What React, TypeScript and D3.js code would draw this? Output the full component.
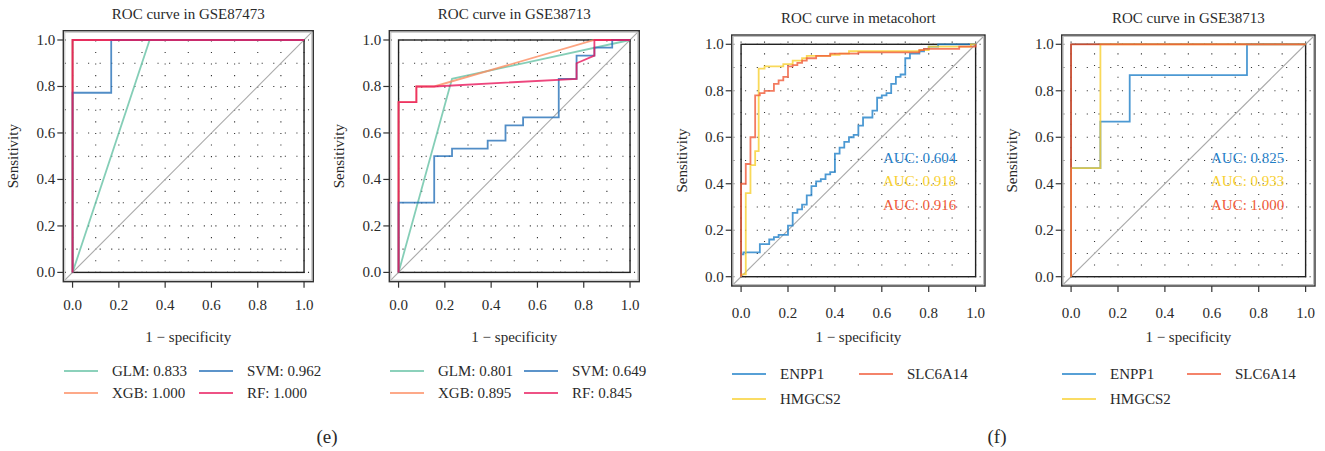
import React from 'react';
import * as d3 from 'd3';

// ---------- data ----------
const TICKS = [0, 0.2, 0.4, 0.6, 0.8, 1.0];
const GRID = [0, 0.1, 0.2, 0.3, 0.4, 0.5, 0.6, 0.7, 0.8, 0.9, 1.0];

const MODEL_NAMES = ['GLM', 'XGB', 'SVM', 'RF'];
const MODEL_COLORS = ['#66C2A5', '#FC8D62', '#2670B8', '#E8185C'];
const GENE_NAMES = ['ENPP1', 'HMGCS2', 'SLC6A14'];
const GENE_COLORS = ['#1F80C8', '#F8D030', '#F05A38'];

const AUC_E1 = ['0.833', '1.000', '0.962', '1.000'];
const AUC_E2 = ['0.801', '0.895', '0.649', '0.845'];
const AUC_F1 = ['0.604', '0.918', '0.916'];
const AUC_F2 = ['0.825', '0.933', '1.000'];

// GSE87473 (models)
const E1_GLM = [[0, 0], [0.333, 1], [1, 1]];
const E1_XGB = [[0, 0], [0, 1], [1, 1]];
const E1_SVM = [[0, 0], [0, 0.773], [0.167, 0.773], [0.167, 1], [1, 1]];
const E1_RF = [[0, 0], [0, 1], [1, 1]];

// GSE38713 (models)
const E2_GLM = [[0, 0], [0.231, 0.833], [1, 1]];
const E2_XGB = [[0, 0], [0, 0.733], [0.077, 0.733], [0.077, 0.8], [0.154, 0.8], [0.846, 1], [1, 1]];
const E2_SVM = [[0, 0], [0, 0.3], [0.154, 0.3], [0.154, 0.5], [0.231, 0.5], [0.231, 0.533], [0.385, 0.533],
  [0.385, 0.567], [0.462, 0.567], [0.462, 0.633], [0.538, 0.633], [0.538, 0.667], [0.692, 0.667],
  [0.692, 0.833], [0.769, 0.833], [0.769, 0.933], [0.846, 0.933], [0.846, 0.967], [0.923, 0.967],
  [0.923, 1], [1, 1]];
const E2_RF = [[0, 0], [0, 0.733], [0.077, 0.733], [0.077, 0.8], [0.154, 0.8], [0.769, 0.833],
  [0.769, 0.9], [0.846, 0.933], [0.846, 1], [1, 1]];

// metacohort (genes)
const F1_ENPP1 = [[0, 0], [0, 0.096], [0.01, 0.096], [0.01, 0.105], [0.08, 0.105], [0.08, 0.14], [0.12, 0.14],
  [0.12, 0.16], [0.14, 0.16], [0.14, 0.17], [0.16, 0.17], [0.16, 0.18], [0.2, 0.18], [0.2, 0.22], [0.22, 0.22],
  [0.22, 0.275], [0.24, 0.275], [0.24, 0.29], [0.26, 0.29], [0.26, 0.31], [0.28, 0.31], [0.28, 0.35], [0.3, 0.35],
  [0.3, 0.39], [0.32, 0.39], [0.32, 0.41], [0.34, 0.41], [0.34, 0.42], [0.36, 0.42], [0.36, 0.44], [0.38, 0.44],
  [0.38, 0.45], [0.4, 0.45], [0.4, 0.53], [0.42, 0.53], [0.42, 0.555], [0.44, 0.555], [0.44, 0.58], [0.46, 0.58],
  [0.46, 0.6], [0.48, 0.6], [0.48, 0.61], [0.5, 0.61], [0.5, 0.65], [0.52, 0.65], [0.52, 0.685], [0.56, 0.685],
  [0.56, 0.715], [0.58, 0.715], [0.58, 0.77], [0.6, 0.77], [0.6, 0.78], [0.62, 0.78], [0.62, 0.79], [0.64, 0.79],
  [0.64, 0.83], [0.66, 0.83], [0.66, 0.86], [0.68, 0.86], [0.68, 0.87], [0.7, 0.87], [0.7, 0.94], [0.72, 0.94],
  [0.72, 0.96], [0.76, 0.96], [0.76, 0.97], [0.78, 0.97], [0.78, 0.98], [0.8, 0.98], [0.8, 0.99], [0.84, 0.99],
  [0.84, 1], [1, 1]];
const F1_HMGCS2 = [[0, 0], [0, 0.01], [0.02, 0.01], [0.02, 0.36], [0.04, 0.36], [0.04, 0.48], [0.06, 0.48],
  [0.06, 0.54], [0.075, 0.54], [0.075, 0.895], [0.1, 0.895], [0.1, 0.905], [0.18, 0.905], [0.18, 0.915],
  [0.22, 0.915], [0.22, 0.93], [0.26, 0.93], [0.26, 0.94], [0.28, 0.94], [0.28, 0.95], [0.38, 0.95],
  [0.38, 0.955], [0.42, 0.955], [0.42, 0.96], [0.46, 0.96], [0.46, 0.97], [0.76, 0.97], [0.76, 0.975],
  [0.8, 0.975], [0.8, 0.99], [0.98, 0.99], [0.98, 1], [1, 1]];
const F1_SLC6A14 = [[0, 0], [0, 0.4], [0.02, 0.4], [0.02, 0.485], [0.04, 0.485], [0.04, 0.6], [0.06, 0.6],
  [0.06, 0.78], [0.08, 0.78], [0.08, 0.79], [0.1, 0.79], [0.1, 0.8], [0.14, 0.8], [0.14, 0.83], [0.16, 0.83],
  [0.16, 0.845], [0.18, 0.845], [0.18, 0.86], [0.2, 0.86], [0.2, 0.905], [0.22, 0.905], [0.22, 0.91],
  [0.24, 0.91], [0.24, 0.92], [0.26, 0.92], [0.26, 0.93], [0.28, 0.93], [0.28, 0.94], [0.32, 0.94],
  [0.32, 0.95], [0.38, 0.95], [0.38, 0.96], [0.5, 0.96], [0.5, 0.965], [0.76, 0.965], [0.76, 0.975],
  [0.78, 0.975], [0.78, 0.98], [0.93, 0.98], [0.93, 0.99], [1, 0.99], [1, 1]];

// GSE38713 (genes)
const F2_ENPP1 = [[0, 0], [0, 0.467], [0.125, 0.467], [0.125, 0.667], [0.25, 0.667], [0.25, 0.867],
  [0.75, 0.867], [0.75, 1], [1, 1]];
const F2_HMGCS2 = [[0, 0], [0, 0.467], [0.125, 0.467], [0.125, 1], [1, 1]];
const F2_SLC6A14 = [[0, 0], [0, 1], [1, 1]];

const TITLES = ['ROC curve in GSE87473', 'ROC curve in GSE38713', 'ROC curve in metacohort', 'ROC curve in GSE38713'];
const PANEL_LABELS = ['(e)', '(f)'];

// ---------- drawing ----------
const FONT = "'Liberation Serif', 'DejaVu Serif', serif";
const TXT = '#2a2a2a';

type Box = { l: number; r: number; t: number; b: number };

function Panel({ box, title, curves, colors, aucs, opacity, tickGap, aucX }:
  { box: Box; title: string; curves: number[][][]; colors: string[]; aucs?: string[]; opacity: number; tickGap: number; aucX?: number }) {
  const x = d3.scaleLinear().domain([-0.04, 1.04]).range([box.l, box.r]);
  const y = d3.scaleLinear().domain([-0.04, 1.04]).range([box.b, box.t]);
  const line = d3.line<number[]>().x(d => x(d[0])).y(d => y(d[1]));
  const cx = (x(0) + x(1)) / 2;
  const cy = (box.t + box.b) / 2;
  const period = x(0.05) - x(0);
  return (
    <g>
      <text x={cx} y={box.t - 12} textAnchor="middle" fontSize={15} fill={TXT} fontFamily={FONT}>{title}</text>
      {/* dotted grid */}
      {GRID.map(g => (
        <line key={'h' + g} x1={box.l} x2={box.r} y1={y(g)} y2={y(g)} stroke="#333" strokeWidth={1.1}
          strokeDasharray={`1.1 ${period - 1.1}`} strokeDashoffset={period - 1.6} />
      ))}
      {GRID.map(g => (
        <line key={'v' + g} x1={x(g)} x2={x(g)} y1={box.b} y2={box.t} stroke="#333" strokeWidth={1.1}
          strokeDasharray={`1.1 ${period - 1.1}`} strokeDashoffset={period - (box.b - y(0)) + 0.5} />
      ))}
      {/* diagonal */}
      <line x1={x(-0.04)} y1={y(-0.04)} x2={x(1.04)} y2={y(1.04)} stroke="#aaaaaa" strokeWidth={1.1} />
      {/* inner frame */}
      <rect x={x(0)} y={y(1)} width={x(1) - x(0)} height={y(0) - y(1)} fill="none" stroke="#222" strokeWidth={1.4} />
      {/* outer frame */}
      <rect x={box.l + 1.5} y={box.t + 1.5} width={box.r - box.l - 3} height={box.b - box.t - 3} fill="none" stroke="#bdbdbd" strokeWidth={1} />
      <rect x={box.l} y={box.t} width={box.r - box.l} height={box.b - box.t} fill="none" stroke="#333" strokeWidth={1.4} />
      {/* curves */}
      {curves.map((c, i) => (
        <path key={i} d={line(c) || ''} fill="none" stroke={colors[i]} strokeWidth={1.8} strokeOpacity={opacity} strokeLinejoin="miter" />
      ))}
      {/* axes */}
      {TICKS.map(t => (
        <g key={'xt' + t}>
          <line x1={x(t)} x2={x(t)} y1={box.b} y2={box.b + 6} stroke="#333" strokeWidth={1.2} />
          <text x={x(t)} y={box.b + tickGap} textAnchor="middle" fontSize={15} fill={TXT} fontFamily={FONT}>{d3.format('.1f')(t)}</text>
        </g>
      ))}
      {TICKS.map(t => (
        <g key={'yt' + t}>
          <line x1={box.l - 6} x2={box.l} y1={y(t)} y2={y(t)} stroke="#333" strokeWidth={1.2} />
          <text x={box.l - 8} y={y(t) + 5} textAnchor="end" fontSize={15} fill={TXT} fontFamily={FONT}>{d3.format('.1f')(t)}</text>
        </g>
      ))}
      <text transform={`translate(${box.l - 45},${cy}) rotate(-90)`} textAnchor="middle" fontSize={15} fill={TXT} fontFamily={FONT}>Sensitivity</text>
      <text x={cx} y={342} textAnchor="middle" fontSize={15} fill={TXT} fontFamily={FONT}>1 − specificity</text>
      {aucs && aucs.map((a, i) => (
        <text key={'auc' + i} x={aucX} y={y(0.49) + i * 23.5} fontSize={15} fill={colors[i]} fontFamily={FONT}>{'AUC: ' + a}</text>
      ))}
    </g>
  );
}

function Legend({ items, colors, x0, col2, rows }: { items: string[]; colors: string[]; x0: number; col2: number; rows: number[] }) {
  // items laid out by row: [0] row0 col0, [1] row0 col1 ... given explicitly via positions
  return (
    <g>
      {items.map((it, i) => {
        const col = i % 2;
        const row = Math.floor(i / 2);
        const lx = col === 0 ? x0 : col2;
        return (
          <g key={it}>
            <line x1={lx} x2={lx + 34} y1={rows[row]} y2={rows[row]} stroke={colors[i]} strokeWidth={1.6} />
            <text x={lx + 48} y={rows[row] + 5} fontSize={15} fill={TXT} fontFamily={FONT}>{it}</text>
          </g>
        );
      })}
    </g>
  );
}

export default function App() {
  const boxes: Box[] = [
    { l: 63.3, r: 313.3, t: 30.7, b: 281.7 },
    { l: 389.3, r: 639.3, t: 30.7, b: 281.7 },
    { l: 731.7, r: 985, t: 35, b: 286 },
    { l: 1061.7, r: 1315, t: 35, b: 286 },
  ];
  // legend orders: models -> GLM, SVM / XGB, RF ; genes -> ENPP1, SLC6A14 / HMGCS2
  const modelOrder = [0, 2, 1, 3];
  const e1Items = modelOrder.map(i => `${MODEL_NAMES[i]}: ${AUC_E1[i]}`);
  const e2Items = modelOrder.map(i => `${MODEL_NAMES[i]}: ${AUC_E2[i]}`);
  const modelCols = modelOrder.map(i => MODEL_COLORS[i]);
  const geneOrder = [0, 2, 1];
  const geneItems = geneOrder.map(i => GENE_NAMES[i]);
  const geneCols = geneOrder.map(i => GENE_COLORS[i]);

  return (
    <svg width={1325} height={451} style={{ position: 'absolute', left: 0, top: 0, background: '#fff' }}>
      <rect width={1325} height={451} fill="#fff" />
      <Panel box={boxes[0]} title={TITLES[0]} curves={[E1_GLM, E1_XGB, E1_SVM, E1_RF]} colors={MODEL_COLORS} opacity={0.8} tickGap={28} />
      <Panel box={boxes[1]} title={TITLES[1]} curves={[E2_GLM, E2_XGB, E2_SVM, E2_RF]} colors={MODEL_COLORS} opacity={0.8} tickGap={28} />
      <Panel box={boxes[2]} title={TITLES[2]} curves={[F1_ENPP1, F1_HMGCS2, F1_SLC6A14]} colors={GENE_COLORS} aucs={AUC_F1} opacity={0.8} tickGap={32} aucX={883} />
      <Panel box={boxes[3]} title={TITLES[3]} curves={[F2_ENPP1, F2_HMGCS2, F2_SLC6A14]} colors={GENE_COLORS} aucs={AUC_F2} opacity={0.8} tickGap={32} aucX={1211} />
      <Legend items={e1Items} colors={modelCols} x0={64} col2={199} rows={[371, 393]} />
      <Legend items={e2Items} colors={modelCols} x0={390} col2={524} rows={[371, 393]} />
      <Legend items={geneItems} colors={geneCols} x0={732} col2={859} rows={[374, 399]} />
      <Legend items={geneItems} colors={geneCols} x0={1062} col2={1187} rows={[374, 399]} />
      <text x={327} y={443} textAnchor="middle" fontSize={19} fill={TXT} fontFamily={FONT}>{PANEL_LABELS[0]}</text>
      <text x={997} y={443} textAnchor="middle" fontSize={19} fill={TXT} fontFamily={FONT}>{PANEL_LABELS[1]}</text>
    </svg>
  );
}
